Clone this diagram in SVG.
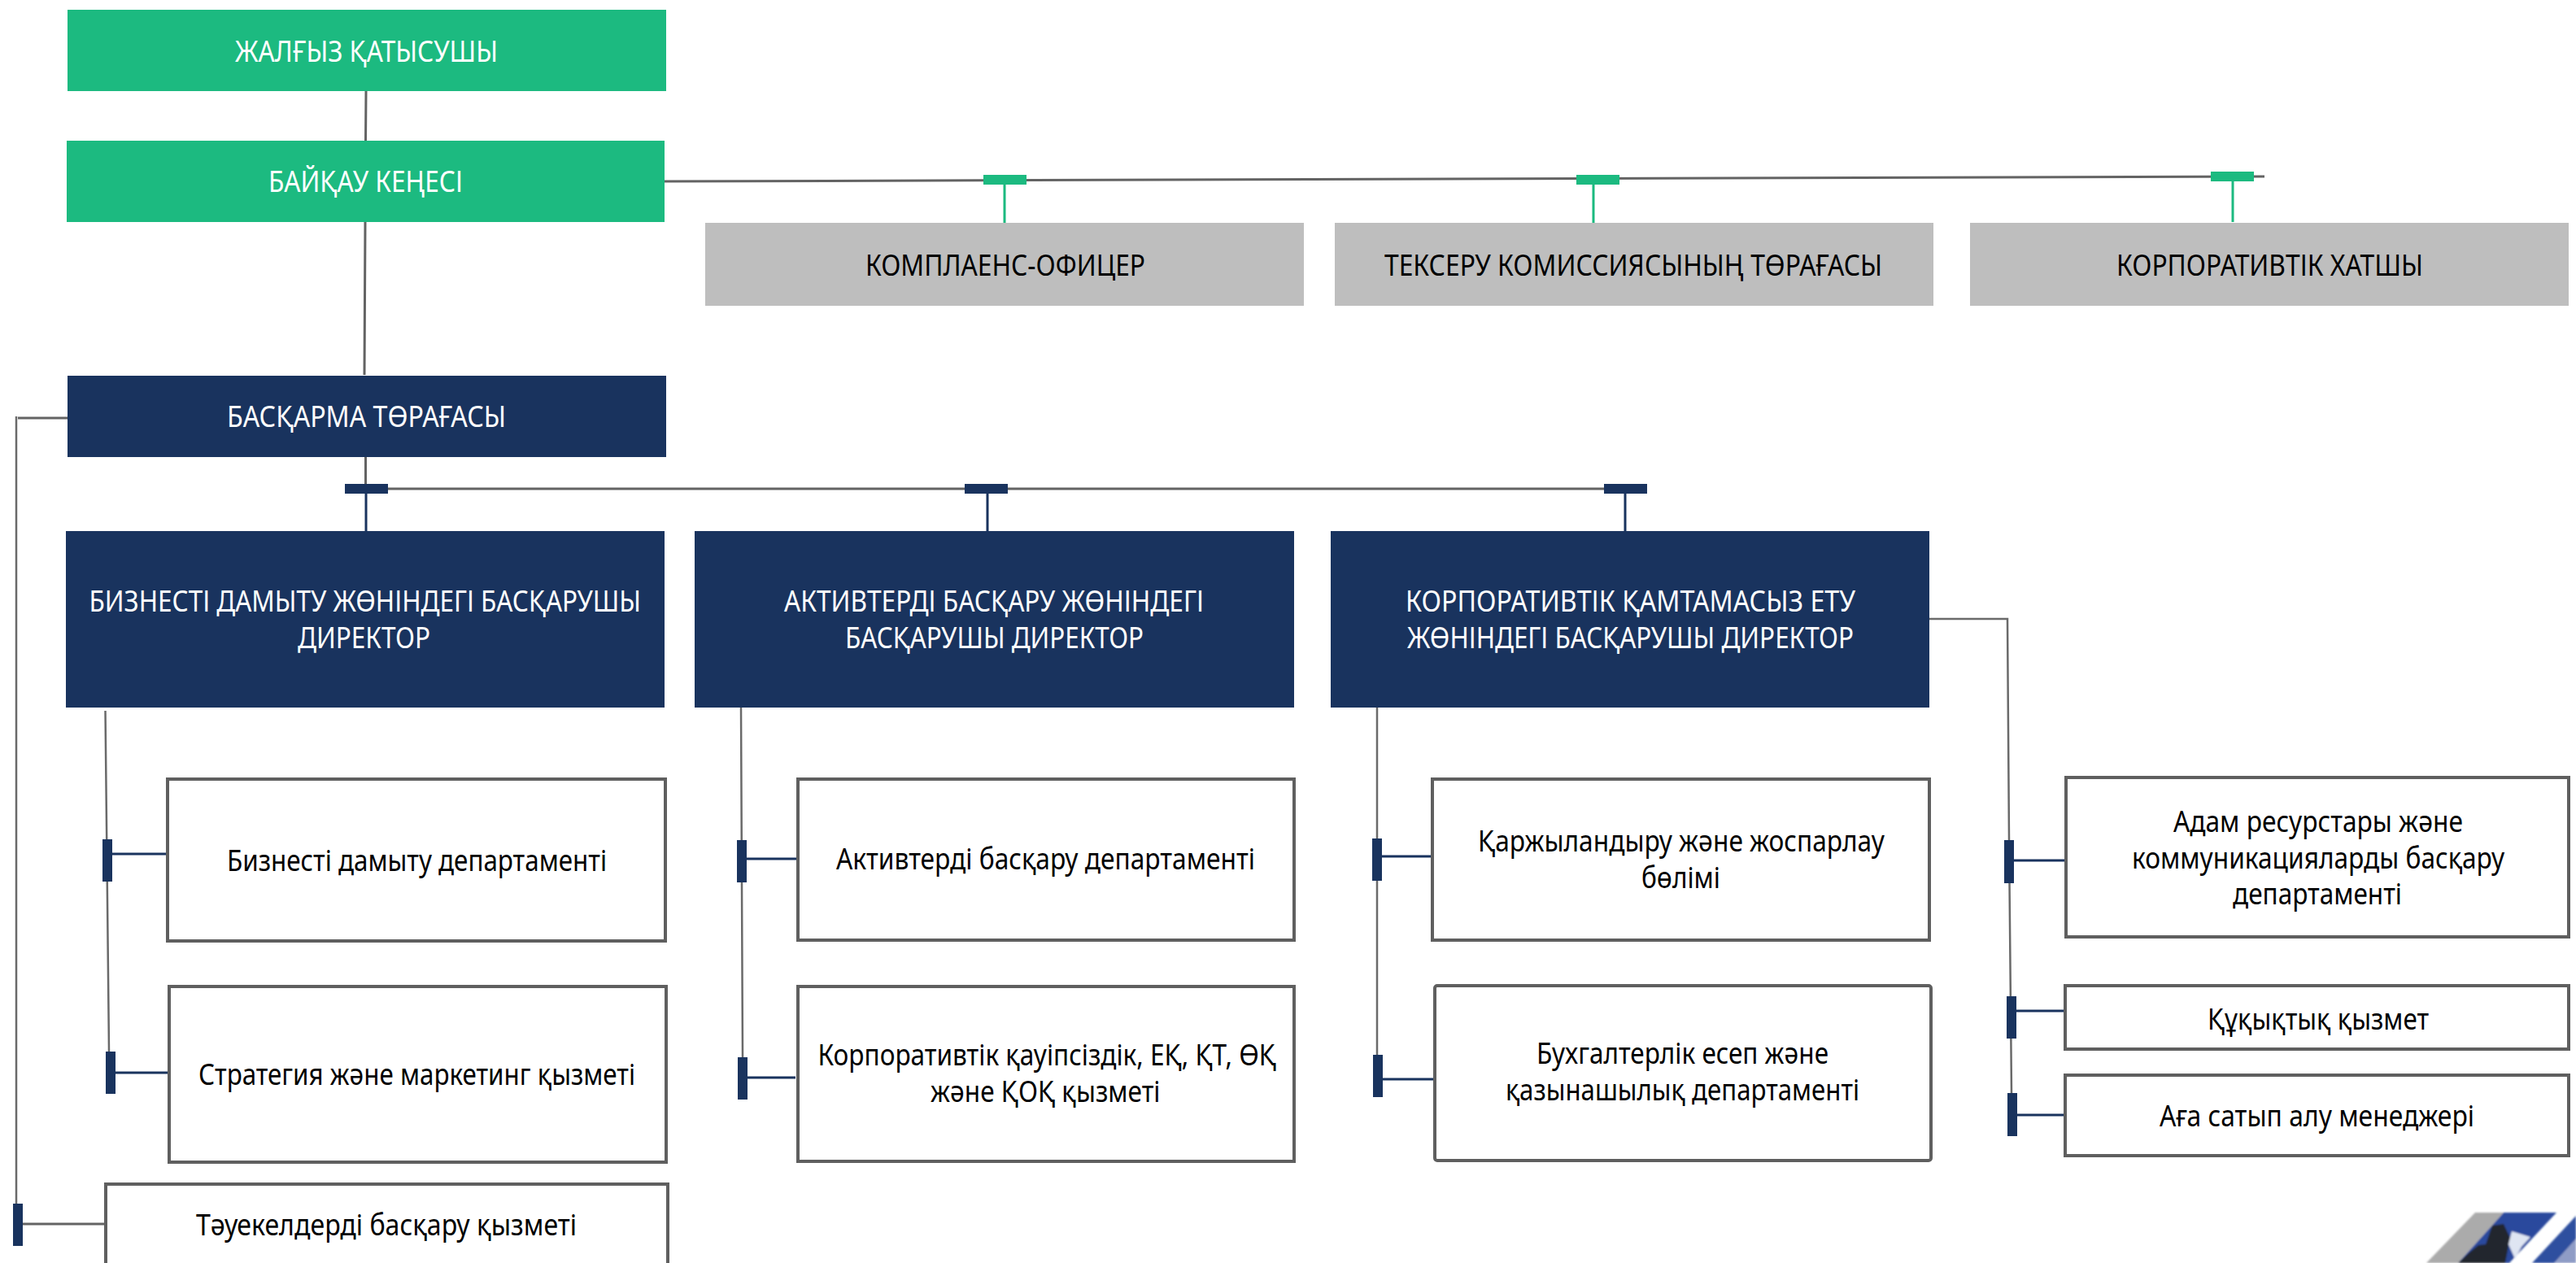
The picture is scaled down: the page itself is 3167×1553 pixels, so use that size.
<svg xmlns="http://www.w3.org/2000/svg" width="3167" height="1553" viewBox="0 0 3167 1553">
<style>
text{font-family:"Noto Sans","Open Sans","Liberation Sans",sans-serif;font-size:36px}
.w{fill:#fff}.k{fill:#000}
.green{fill:#1cba80}.navy{fill:#19335e}.grey{fill:#bebebe}
.box{fill:#fff;stroke:#5f5f5f;stroke-width:4}
.ln{fill:none;stroke:#636363;stroke-width:3}
.thin{fill:none;stroke:#6a6a6a;stroke-width:2.5}
.ng{fill:none;stroke:#1cba80;stroke-width:3}
.nn{fill:none;stroke:#19335e;stroke-width:3}
</style>
<defs><filter id="soft" x="-5%" y="-5%" width="110%" height="110%"><feGaussianBlur stdDeviation="1.2"/></filter></defs>
<rect width="3167" height="1553" fill="#fff"/>
<g id="connectors">
<path class="ln" d="M450 112L449.500 173M449 273L448 461M449.500 562V600"/>
<path class="ln" d="M817 223L2784 217"/>
<path class="ln" d="M477 601H1972"/>
<path class="ln" d="M83 514H22"/>
<path class="thin" d="M20 512V1482M129.500 874L134 1293M911 870L913 1300M1693 870V1297M2372 761H2468L2470 1033L2473 1345"/>
<path class="ln" d="M28 1505H128"/>
<path class="ng" d="M1235 227V274M1959 227V274M2745 223V273"/>
<path class="nn" d="M450 607V653M1214 607V653M1998 607V653M138 1050H205M142 1319H207M918 1056H980M919 1325H978M1699 1053H1761M1700 1327H1763M2476 1058H2540M2479 1243H2538M2480 1371H2540"/>
<g class="green"><rect x="1209" y="215" width="53" height="12"/><rect x="1938" y="215" width="53" height="12"/><rect x="2718" y="211" width="53" height="12"/></g>
<g class="navy"><rect x="424" y="595" width="53" height="12"/><rect x="1186" y="595" width="53" height="12"/><rect x="1972" y="595" width="53" height="12"/>
<rect x="126" y="1032" width="12" height="52"/><rect x="130" y="1293" width="12" height="52"/><rect x="16" y="1480" width="12" height="52"/>
<rect x="906" y="1033" width="12" height="52"/><rect x="907" y="1300" width="12" height="52"/>
<rect x="1687" y="1031" width="12" height="52"/><rect x="1688" y="1297" width="12" height="52"/>
<rect x="2464" y="1033" width="12" height="53"/><rect x="2467" y="1225" width="12" height="52"/><rect x="2468" y="1344" width="12" height="53"/></g>
</g>
<g id="n1"><rect class="green" x="83" y="12" width="736" height="100"/><text class="w" x="289" y="76" textLength="323" lengthAdjust="spacingAndGlyphs">ЖАЛҒЫЗ ҚАТЫСУШЫ</text></g>
<g id="n2"><rect class="green" x="82" y="173" width="735" height="100"/><text class="w" x="330" y="236" textLength="239" lengthAdjust="spacingAndGlyphs">БАЙҚАУ КЕҢЕСІ</text></g>
<g id="n3"><rect class="navy" x="83" y="462" width="736" height="100"/><text class="w" x="279" y="525" textLength="343" lengthAdjust="spacingAndGlyphs">БАСҚАРМА ТӨРАҒАСЫ</text></g>
<g id="n4"><rect class="grey" x="867" y="274" width="736" height="102"/><text class="k" x="1064" y="339" textLength="344" lengthAdjust="spacingAndGlyphs">КОМПЛАЕНС-ОФИЦЕР</text></g>
<g id="n5"><rect class="grey" x="1641" y="274" width="736" height="102"/><text class="k" x="1702" y="339" textLength="612" lengthAdjust="spacingAndGlyphs">ТЕКСЕРУ КОМИССИЯСЫНЫҢ ТӨРАҒАСЫ</text></g>
<g id="n6"><rect class="grey" x="2422" y="274" width="736" height="102"/><text class="k" x="2602" y="339" textLength="377" lengthAdjust="spacingAndGlyphs">КОРПОРАТИВТІК ХАТШЫ</text></g>
<g id="n7"><rect class="navy" x="81" y="653" width="736" height="217"/><text class="w" x="109.500" y="752" textLength="678.500" lengthAdjust="spacingAndGlyphs">БИЗНЕСТІ ДАМЫТУ ЖӨНІНДЕГІ БАСҚАРУШЫ</text><text class="w" x="366" y="797" textLength="163" lengthAdjust="spacingAndGlyphs">ДИРЕКТОР</text></g>
<g id="n8"><rect class="navy" x="854" y="653" width="737" height="217"/><text class="w" x="964" y="752" textLength="516" lengthAdjust="spacingAndGlyphs">АКТИВТЕРДІ БАСҚАРУ ЖӨНІНДЕГІ</text><text class="w" x="1039" y="797" textLength="367" lengthAdjust="spacingAndGlyphs">БАСҚАРУШЫ ДИРЕКТОР</text></g>
<g id="n9"><rect class="navy" x="1636" y="653" width="736" height="217"/><text class="w" x="1728" y="752" textLength="553" lengthAdjust="spacingAndGlyphs">КОРПОРАТИВТІК ҚАМТАМАСЫЗ ЕТУ</text><text class="w" x="1730" y="797" textLength="549" lengthAdjust="spacingAndGlyphs">ЖӨНІНДЕГІ БАСҚАРУШЫ ДИРЕКТОР</text></g>
<g id="n10"><rect class="box" x="206" y="958" width="612" height="199"/><text class="k" x="279" y="1071" textLength="467" lengthAdjust="spacingAndGlyphs">Бизнесті дамыту департаменті</text></g>
<g id="n11"><rect class="box" x="208" y="1213" width="611" height="216"/><text class="k" x="244" y="1334" textLength="537" lengthAdjust="spacingAndGlyphs">Стратегия және маркетинг қызметі</text></g>
<g id="n12"><rect class="box" x="130" y="1456" width="691" height="110"/><text class="k" x="241" y="1519" textLength="468" lengthAdjust="spacingAndGlyphs">Тәуекелдерді басқару қызметі</text></g>
<g id="n13"><rect class="box" x="981" y="958" width="610" height="198"/><text class="k" x="1028" y="1069" textLength="515" lengthAdjust="spacingAndGlyphs">Активтерді басқару департаменті</text></g>
<g id="n14"><rect class="box" x="981" y="1213" width="610" height="215"/><text class="k" x="1005.500" y="1310" textLength="563.500" lengthAdjust="spacingAndGlyphs">Корпоративтік қауіпсіздік, ЕҚ, ҚТ, ӨҚ</text><text class="k" x="1144" y="1354.500" textLength="282.500" lengthAdjust="spacingAndGlyphs">және ҚОҚ қызметі</text></g>
<g id="n15"><rect class="box" x="1761" y="958" width="611" height="198"/><text class="k" x="1817" y="1047" textLength="500" lengthAdjust="spacingAndGlyphs">Қаржыландыру және жоспарлау</text><text class="k" x="2018" y="1092" textLength="97" lengthAdjust="spacingAndGlyphs">бөлімі</text></g>
<g id="n16"><rect class="box" x="1764" y="1212" width="610" height="215" rx="3"/><text class="k" x="1889" y="1308" textLength="359" lengthAdjust="spacingAndGlyphs">Бухгалтерлік есеп және</text><text class="k" x="1851" y="1353" textLength="435" lengthAdjust="spacingAndGlyphs">қазынашылық департаменті</text></g>
<g id="n17"><rect class="box" x="2540" y="956" width="618" height="196"/><text class="k" x="2672" y="1023" textLength="356" lengthAdjust="spacingAndGlyphs">Адам ресурстары және</text><text class="k" x="2621" y="1068" textLength="458" lengthAdjust="spacingAndGlyphs">коммуникацияларды басқару</text><text class="k" x="2745" y="1112" textLength="208" lengthAdjust="spacingAndGlyphs">департаменті</text></g>
<g id="n18"><rect class="box" x="2539" y="1212" width="619" height="78"/><text class="k" x="2714" y="1265.500" textLength="272" lengthAdjust="spacingAndGlyphs">Құқықтық қызмет</text></g>
<g id="n19"><rect class="box" x="2539" y="1322" width="619" height="99"/><text class="k" x="2655" y="1385" textLength="387" lengthAdjust="spacingAndGlyphs">Аға сатып алу менеджері</text></g>
<g id="corner-picture" filter="url(#soft)">
<polygon points="3043,1491 3078,1491 3022,1553 2983,1553" fill="#ababab"/>
<polygon points="3078,1491 3143,1491 3085,1553 3022,1553" fill="#2b4a9d"/>
<polygon points="3167,1495 3167,1553 3113,1553" fill="#2f4f9f"/>
<polygon points="3064,1507 3078,1505 3086,1522 3080,1553 3022,1553 3036,1540 3047,1531 3056,1530" fill="#23252d"/>
<polygon points="3088,1514 3111,1521 3100,1533 3092,1548 3084,1530" fill="#dfe5f2"/>
<polygon points="3167,1523 3167,1553 3140,1553" fill="#8f9cc6"/>
</g>
</svg>
